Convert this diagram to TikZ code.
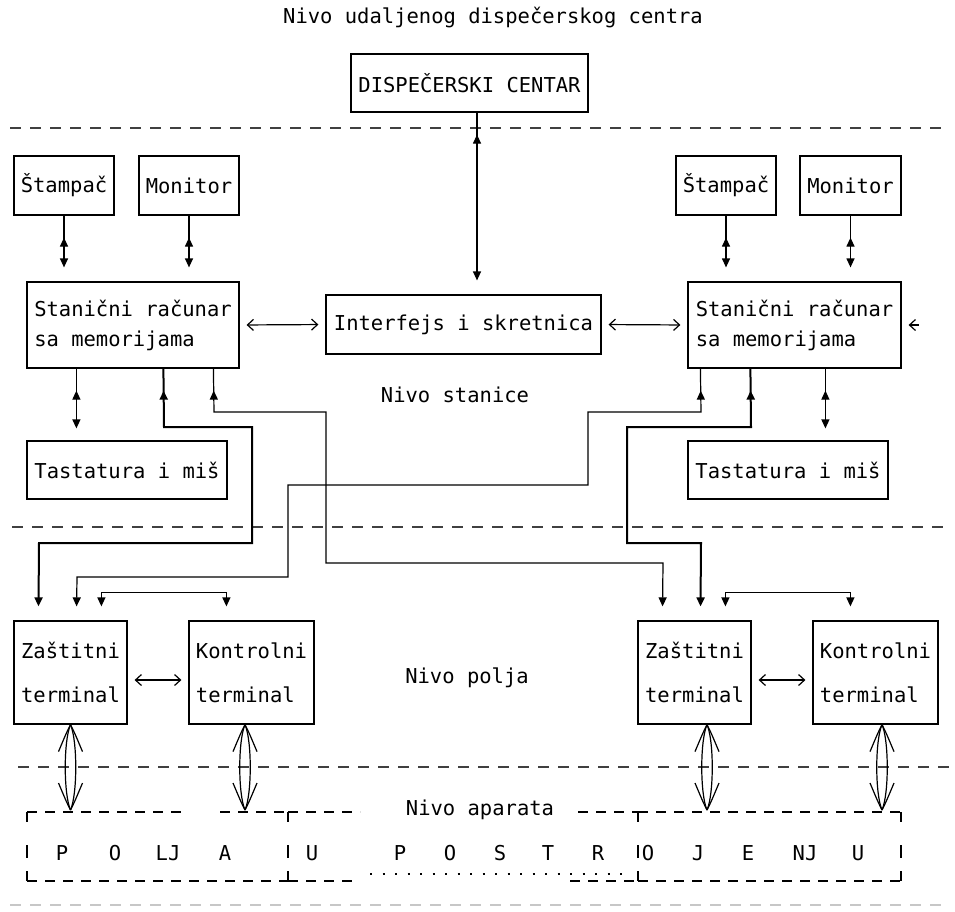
\documentclass[tikz,border=0pt]{standalone}
\usepackage{fontspec}
\newfontfamily\dosfont{DejaVu Sans Mono}
\usetikzlibrary{arrows.meta,decorations.markings}

% hollow double arrow between a terminal and the apparatus level
\newcommand\lensarrow[2]{%
  \draw[bus] (#1) .. controls +(-7,16) and +(-7,-16) .. (#2);
  \draw[bus] (#1) .. controls +(7,16) and +(7,-16) .. (#2);
  \draw[bus] (#1) .. controls +(-4,8) .. +(-12,27);
  \draw[bus] (#1) .. controls +(4,8) .. +(12,27);
  \draw[bus] (#2) .. controls +(-4,-8) .. +(-12,-27);
  \draw[bus] (#2) .. controls +(4,-8) .. +(12,-27);
}

\begin{document}
\begin{tikzpicture}[x=1pt,y=-1pt,
  txt/.style={inner sep=0pt, font=\dosfont\fontsize{20.5pt}{30pt}\selectfont},
  box/.style={draw, line width=1.2pt, inner sep=0pt, align=left,
    font=\dosfont\fontsize{20.5pt}{30pt}\selectfont},
  termbox/.style={box, font=\dosfont\fontsize{20.5pt}{44pt}\selectfont},
  lvl/.style={draw=black!75, line width=1.4pt, dash pattern=on 11pt off 9pt},
  bus/.style={line width=1.2pt},
  busthick/.style={line width=2pt},
  tipend/.style={-{Triangle[length=9pt,width=8pt]}, shorten >=14pt},
  upmark/.style={postaction={decorate}, decoration={markings,
    mark=at position 22pt with {\arrowreversed{Triangle[length=9pt,width=8pt]}}}},
  barbs/.style={{Straight Barb[length=6pt,width=11pt]}-{Straight Barb[length=6pt,width=11pt]},
    shorten <=7pt, shorten >=7pt},
  twin/.style={{Triangle[length=9pt,width=8pt]}-{Triangle[length=9pt,width=8pt]},
    shorten <=14pt, shorten >=14pt},
  bracket/.style={line width=1.2pt, dash pattern=on 10pt off 8pt},
  bside/.style={line width=1.2pt, dash pattern=on 10pt off 23pt on 13pt off 13pt on 10pt off 0pt},
]
\useasboundingbox (0,0) rectangle (955,911);

% level separators
\draw[lvl] (10,128) -- (950,128);
\draw[lvl] (12,527) -- (945,527);
\draw[lvl] (18,767) -- (955,767);
\draw[lvl, draw=black!22] (10,905) -- (950,905);

% level titles
\node[txt] (lvlA) at (493,18) {Nivo udaljenog dispečerskog centra};
\node[txt] (lvlB) at (455,395) {Nivo stanice};
\node[txt] (lvlC) at (467,678) {Nivo polja};
\node[txt] (lvlD) at (480,810) {Nivo aparata};

% dispatch centre
\node[box, minimum width=237pt, minimum height=58pt] (disp) at (469.5,83) {DISPEČERSKI CENTAR};

% station level, left
\node[box, minimum width=100pt, minimum height=59pt] (stampL) at (64,185.5) {Štampač};
\node[box, minimum width=100pt, minimum height=59pt] (monL) at (189,185.5) {Monitor};
\node[box, minimum width=212pt, minimum height=86pt] (stanL) at (133,325) {Stanični računar\\sa memorijama};
\node[box, minimum width=200pt, minimum height=58pt] (tastL) at (127,470) {Tastatura i miš};

% interface
\node[box, minimum width=275pt, minimum height=59pt] (iface) at (463.5,324.5) {Interfejs i skretnica};

% station level, right
\node[box, minimum width=100pt, minimum height=59pt] (stampR) at (726,185.5) {Štampač};
\node[box, minimum width=101pt, minimum height=59pt] (monR) at (850.5,185.5) {Monitor};
\node[box, minimum width=213pt, minimum height=86pt] (stanR) at (794.5,325) {Stanični računar\\sa memorijama};
\node[box, minimum width=200pt, minimum height=58pt] (tastR) at (788,470) {Tastatura i miš};

% field level
\node[termbox, minimum width=113pt, minimum height=103pt] (zasL) at (70.5,672.5) {Zaštitni\\terminal};
\node[termbox, minimum width=125pt, minimum height=103pt] (konL) at (251.5,672.5) {Kontrolni\\terminal};
\node[termbox, minimum width=113pt, minimum height=103pt] (zasR) at (694.5,672.5) {Zaštitni\\terminal};
\node[termbox, minimum width=125pt, minimum height=103pt] (konR) at (875.5,672.5) {Kontrolni\\terminal};

% dispatch centre <-> interface
\coordinate (dtop) at ([xshift=7.5pt]disp.south);
\draw[bus, upmark, tipend] (dtop) -- (dtop |- iface.north);

% peripherals <-> station computers
\draw[bus, upmark, tipend] (stampL.south) -- (stampL.south |- stanL.north);
\draw[bus, upmark, tipend] (monL.south) -- (monL.south |- stanL.north);
\draw[bus, upmark, tipend] (stampR.south) -- (stampR.south |- stanR.north);
\draw[bus, upmark, tipend] (monR.south) -- (monR.south |- stanR.north);

\coordinate (kbL) at ([xshift=50pt]stanL.south west);
\coordinate (kbR) at ([xshift=138pt]stanR.south west);
\draw[bus, upmark, tipend, shorten >=12pt] (kbL) -- (kbL |- tastL.north);
\draw[bus, upmark, tipend, shorten >=12pt] (kbR) -- (kbR |- tastR.north);

% station computers <-> interface
\draw[bus, barbs] (stanL.east) -- (iface.west);
\draw[bus, barbs] (iface.east) -- (stanR.west);
\draw[bus, {Straight Barb[length=6pt,width=11pt]}-, shorten <=7pt] (stanR.east) -- ++(17,0) coordinate (extin);

% station computers -> protection terminals
\draw[busthick, upmark, tipend] ([xshift=137pt]stanL.south west) -- (164,427) -- (252,427)
  -- (252,543) -- (39,543) -- ([xshift=25pt]zasL.north west);
\draw[bus, upmark, tipend] ([xshift=187pt]stanL.south west) -- (214,412) -- (326,412)
  -- (326,563) -- (663,563) -- ([xshift=25pt]zasR.north west);
\draw[bus, upmark, tipend] ([xshift=13pt]stanR.south west) -- (701,412) -- (588,412)
  -- (588,485) -- (288,485) -- (288,577) -- (77,577) -- ([xshift=63pt]zasL.north west);
\draw[busthick, upmark, tipend] ([xshift=63pt]stanR.south west) -- (751,427) -- (627,427)
  -- (627,543) -- (701,543) -- ([xshift=63pt]zasR.north west);

% links between the terminals of one field
\draw[bus, twin] ([xshift=88pt]zasL.north west) -- ++(0,-28) -| ([xshift=38pt]konL.north west);
\draw[bus, twin] ([xshift=88pt]zasR.north west) -- ++(0,-28) -| ([xshift=38pt]konR.north west);
\draw[bus, barbs] ([yshift=-7.5pt]zasL.east) -- ([yshift=-7.5pt]konL.west);
\draw[bus, barbs] ([yshift=-7.5pt]zasR.east) -- ([yshift=-7.5pt]konR.west);

% terminals <-> apparatus
\coordinate (zlT) at (zasL.south);
\coordinate (zlB) at (70.5,810);
\coordinate (klT) at ([xshift=-6.5pt]konL.south);
\coordinate (klB) at (245,810);
\coordinate (zrT) at ([xshift=12.5pt]zasR.south);
\coordinate (zrB) at (707,810);
\coordinate (krT) at ([xshift=6.5pt]konR.south);
\coordinate (krB) at (882,810);
\lensarrow{zlT}{zlB}
\lensarrow{klT}{klB}
\lensarrow{zrT}{zrB}
\lensarrow{krT}{krB}

% apparatus brackets
\draw[bracket] (27,812) -- (183,812);
\draw[bracket] (220,812) -- (288,812);
\draw[bracket] (288,812) -- (360,812);
\draw[bracket] (578,812) -- (638,812);
\draw[bracket] (638,812) -- (901,812);
\draw[bracket] (27,881) -- (288,881);
\draw[bracket] (288,881) -- (358,881);
\draw[bracket] (570,881) -- (638,881);
\draw[bracket] (638,881) -- (901,881);
\draw[bside] (27,812) -- (27,881);
\draw[bside] (288,812) -- (288,881);
\draw[bside] (638,812) -- (638,881);
\draw[bside] (901,812) -- (901,881);
\draw[line width=2pt, dash pattern=on 2pt off 10.5pt] (370,874) -- (623,874);

% apparatus lettering
\node[txt] (c1) at (62,853) {P};
\node[txt] (c2) at (115,853) {O};
\node[txt] (c3) at (168,853) {LJ};
\node[txt] (c4) at (225,853) {A};
\node[txt] (c5) at (312,853) {U};
\node[txt] (c6) at (400,853) {P};
\node[txt] (c7) at (450,853) {O};
\node[txt] (c8) at (500,853) {S};
\node[txt] (c9) at (548,853) {T};
\node[txt] (c10) at (598,853) {R};
\node[txt] (c11) at (648,853) {O};
\node[txt] (c12) at (698,853) {J};
\node[txt] (c13) at (748,853) {E};
\node[txt] (c14) at (805,853) {NJ};
\node[txt] (c15) at (858,853) {U};
\end{tikzpicture}
\end{document}
